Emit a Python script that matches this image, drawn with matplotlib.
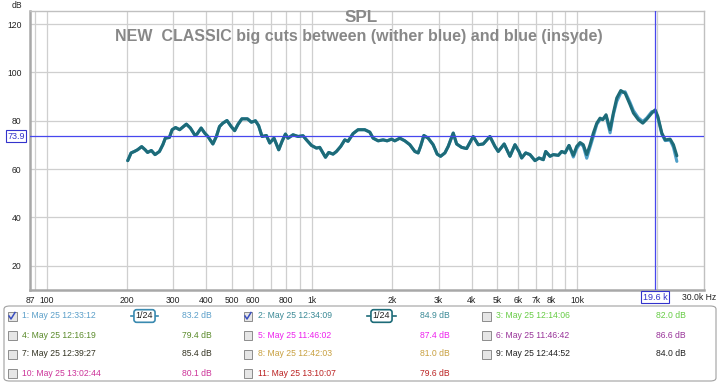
import matplotlib
matplotlib.use("Agg")
import matplotlib.pyplot as plt
from matplotlib.patches import Rectangle, FancyBboxPatch
from matplotlib.lines import Line2D

plt.rcParams['font.family'] = ['Liberation Sans', 'DejaVu Sans']

# ---------------- data ----------------
freq_hz = [202, 208, 214, 220, 228, 235, 240, 248, 256, 266, 274, 280, 290, 297, 306, 317,
           336, 348, 361, 368, 382, 394, 405, 423, 436, 448, 461, 478, 496, 511, 526, 544,
           571, 591, 612, 629, 648, 673, 693, 719, 749, 771, 794, 812, 848, 886, 925, 953,
           995, 1039, 1069, 1091, 1124, 1156, 1200, 1236, 1283, 1329, 1367, 1428, 1491, 1580,
           1651, 1699, 1775, 1853, 1919, 1993, 2051, 2143, 2238, 2337, 2441, 2512, 2565, 2640,
           2740, 2861, 2963, 3052, 3168, 3261, 3406, 3508, 3664, 3826, 3937, 4051, 4231, 4419,
           4683, 4891, 5034, 5300, 5572, 5820, 6026, 6169, 6388, 6630, 6925, 7170, 7443, 7600,
           7889, 8118, 8479, 8732, 8986, 9305, 9658, 9947, 10240, 10530, 10850, 11170, 11490,
           11840, 12180, 12470, 12830, 13290, 13670, 14080, 14580, 15140, 15810, 16270, 16990,
           17650, 18280, 19090, 19650, 20110, 20820, 21430, 22380, 23030, 23720]

spl_2_teal = [63.5, 66.7, 67.3, 68.0, 69.3, 68.0, 66.9, 67.7, 66.0, 67.3, 70.1, 72.8, 73.1, 76.3, 77.2, 76.3,
              78.6, 77.0, 74.2, 74.4, 77.0, 74.9, 73.5, 70.4, 73.5, 77.6, 79.0, 80.1, 77.6, 75.9, 78.5, 80.8,
              80.8, 79.4, 80.0, 78.0, 73.5, 73.9, 70.8, 72.8, 68.0, 71.5, 74.5, 72.8, 74.2, 73.5, 73.8, 72.1,
              69.8, 68.7, 69.0, 67.3, 64.9, 66.9, 66.2, 67.3, 69.4, 72.1, 71.5, 74.7, 76.3, 76.3,
              75.3, 72.8, 71.7, 72.1, 71.7, 72.4, 71.7, 72.8, 71.7, 70.1, 67.3, 66.7, 69.4, 73.9,
              72.8, 70.1, 66.2, 65.3, 66.7, 69.4, 74.9, 70.4, 69.0, 68.5, 71.0, 73.5, 70.1, 70.4,
              73.5, 69.4, 67.3, 70.4, 65.3, 70.1, 67.3, 64.6, 66.7, 66.0, 63.5, 64.6, 63.9, 67.3,
              65.3, 66.0, 65.7, 67.3, 66.7, 69.8, 65.7, 69.4, 71.0, 70.1, 66.0, 70.1, 74.9,
              79.0, 81.1, 80.4, 82.5, 76.3, 83.2, 89.4, 92.5, 91.4, 86.6, 83.2, 80.4,
              79.0, 80.7, 83.2, 84.5, 81.8, 74.9, 72.1, 72.4, 70.1, 65.5]

spl_1_lightblue = [63.5, 66.7, 67.3, 68.0, 69.3, 68.0, 66.9, 67.7, 66.0, 67.3, 70.1, 72.8, 73.1, 76.3, 77.2, 76.3,
                   78.6, 77.0, 74.2, 74.4, 77.0, 74.9, 73.5, 70.4, 73.5, 77.6, 79.0, 80.1, 77.6, 75.9, 78.5, 80.8,
                   80.8, 79.4, 80.0, 78.0, 73.5, 73.9, 70.8, 72.8, 68.0, 71.5, 74.5, 72.8, 74.2, 73.5, 73.8, 72.1,
                   69.8, 68.7, 69.0, 67.3, 64.9, 66.9, 66.2, 67.3, 69.4, 72.1, 71.5, 74.7, 76.3, 76.3,
                   75.3, 72.8, 71.7, 72.1, 71.7, 72.4, 71.7, 72.8, 71.7, 70.1, 67.3, 66.7, 69.4, 73.9,
                   72.8, 70.1, 66.2, 65.3, 66.7, 69.4, 74.9, 70.4, 69.0, 68.5, 71.0, 73.5, 70.1, 70.4,
                   73.5, 69.4, 67.3, 70.4, 65.3, 70.1, 67.3, 64.6, 66.7, 66.0, 63.5, 64.6, 63.9, 67.3,
                   65.3, 66.0, 65.7, 67.3, 66.7, 69.8, 65.0, 68.5, 70.6, 69.5, 64.5, 69.0, 73.5,
                   78.5, 80.5, 80.8, 82.0, 75.0, 82.5, 88.0, 91.5, 92.0, 87.5, 84.2, 81.2,
                   79.7, 81.2, 83.8, 84.0, 81.2, 74.5, 71.8, 72.0, 69.0, 63.2]

x_tick_vals = [87, 100, 200, 300, 400, 500, 600, 800, 1000, 2000, 3000, 4000, 5000, 6000, 7000, 8000, 10000]
x_tick_labels = ['87', '100', '200', '300', '400', '500', '600', '800', '1k', '2k', '3k', '4k', '5k', '6k', '7k', '8k', '10k']
x_end_label = '30.0k Hz'
x_grid_vals = [90, 100, 200, 300, 400, 500, 600, 700, 800, 900, 1000, 2000, 3000, 4000, 5000, 6000,
               7000, 8000, 9000, 10000, 20000]
y_tick_vals = [20, 40, 60, 80, 100, 120]

cursor_y = 73.9
cursor_x = 19600

legend_rows = [
    [("1: May 25 12:33:12", "83.2 dB", "#5b9fc9", True, True),
     ("2: May 25 12:34:09", "84.9 dB", "#3b8a96", True, True),
     ("3: May 25 12:14:06", "82.0 dB", "#66cc44", False, False)],
    [("4: May 25 12:16:19", "79.4 dB", "#5a8a2a", False, False),
     ("5: May 25 11:46:02", "87.4 dB", "#ee22ee", False, False),
     ("6: May 25 11:46:42", "86.6 dB", "#993399", False, False)],
    [("7: May 25 12:39:27", "85.4 dB", "#333322", False, False),
     ("8: May 25 12:42:03", "81.0 dB", "#c8a040", False, False),
     ("9: May 25 12:44:52", "84.0 dB", "#222222", False, False)],
    [("10: May 25 13:02:44", "80.1 dB", "#cc3399", False, False),
     ("11: May 25 13:10:07", "79.6 dB", "#bb2222", False, False)],
]

# ---------------- figure ----------------
W, H = 719, 384
fig = plt.figure(figsize=(W / 100, H / 100), dpi=100)
fig.patch.set_facecolor('white')


def fx(x):
    return x / W


def fy(y):
    return 1 - y / H


L, R, T, B = 30, 704.3, 11, 290
ax = fig.add_axes([fx(L), fy(B), fx(R) - fx(L), fy(T) - fy(B)])
ax.set_xscale('log')
ax.set_xlim(86.5, 30100)
ax.set_ylim(10, 125.4)
ax.set_facecolor('white')

for gx in x_grid_vals:
    ax.axvline(gx, color='#cfcfcf', lw=0.9, zorder=0)
for gy in y_tick_vals:
    ax.axhline(gy, color='#cfcfcf', lw=0.9, zorder=0)

ax.plot(freq_hz, spl_1_lightblue, color='#4f9fc8', lw=2.2, zorder=3, solid_capstyle='round')
ax.plot(freq_hz, spl_2_teal, color='#1d6b78', lw=2.2, zorder=4, solid_capstyle='round')

ax.axhline(cursor_y, color='#4747ee', lw=0.9, zorder=5)
ax.axvline(cursor_x, color='#4747ee', lw=0.9, zorder=5)

ax.set_xticks(x_tick_vals)
ax.set_xticklabels(x_tick_labels)
ax.xaxis.set_minor_locator(matplotlib.ticker.NullLocator())
ax.set_yticks(y_tick_vals)
ax.set_yticklabels([str(v) for v in y_tick_vals])
ax.tick_params(axis='both', length=0, labelsize=6.2, colors='#222222')
ax.tick_params(axis='x', pad=4)
ax.tick_params(axis='y', pad=6)

for s in ['top', 'right']:
    ax.spines[s].set_color('#c0c0c0')
    ax.spines[s].set_linewidth(1.0)
for s in ['left', 'bottom']:
    ax.spines[s].set_color('#a8a8a8')
    ax.spines[s].set_linewidth(1.8)

fig.text(fx(716), fy(297), x_end_label, ha='right', va='center', fontsize=6.2, color='#222222')

# titles
fig.text(fx(361), fy(18), "SPL", ha='center', va='center', fontsize=12.3,
         fontweight='bold', color='#888888')
fig.text(fx(359), fy(37), "NEW  CLASSIC big cuts between (wither blue) and blue (insyde)",
         ha='center', va='center', fontsize=11.5, fontweight='bold', color='#888888')
fig.text(fx(17), fy(5), "dB", ha='center', va='center', fontsize=6.2, color='#222222')

# cursor value boxes
fig.text(fx(16), fy(136), "73.9", ha='center', va='center', fontsize=6.5, color='#3333cc',
         bbox=dict(boxstyle='square,pad=0.15', fc='white', ec='#3333cc', lw=0.8))
fig.text(fx(655), fy(297), "19.6 k", ha='center', va='center', fontsize=6.5, color='#3333cc',
         bbox=dict(boxstyle='square,pad=0.15', fc='white', ec='#3333cc', lw=0.8))

# ---------------- legend panel ----------------
panel = FancyBboxPatch((fx(4), fy(381)), fx(712), 75 / H, transform=fig.transFigure,
                       boxstyle='round,pad=0,rounding_size=0.008', fc='white', ec='#a0a0a0', lw=0.8)
fig.patches.append(panel)

row_y = [316, 335, 354, 373]
col_box_x = [12, 248, 486]
col_val_x = [212, 450, 686]
icon_x = [(131, 158), (367, 396)]


def checkbox(x, y, checked):
    r = Rectangle((fx(x - 4.5), fy(y + 4.5)), 9 / W, 9 / H, transform=fig.transFigure,
                  fc='#e6e6e6', ec='#8c8c8c', lw=0.7)
    fig.patches.append(r)
    if checked:
        fig.lines.append(Line2D([fx(x - 3), fx(x - 1), fx(x + 3)], [fy(y), fy(y + 3), fy(y - 3.5)],
                                transform=fig.transFigure, color='#3a4fc0', lw=1.1))


for ri, row in enumerate(row_y):
    for ci, entry in enumerate(legend_rows[ri]):
        label, val, col, checked, icon = entry
        checkbox(col_box_x[ci], row, checked)
        fig.text(fx(col_box_x[ci] + 10), fy(row), label, ha='left', va='center', fontsize=6.2, color=col)
        fig.text(fx(col_val_x[ci]), fy(row), val, ha='right', va='center', fontsize=6.2, color=col)
        if icon:
            x0, x1 = icon_x[ci]
            lc = '#3a8ab0' if ci == 0 else '#1d6b78'
            fig.lines.append(Line2D([fx(x0), fx(x1)], [fy(row), fy(row)], transform=fig.transFigure,
                                    color=lc, lw=1.2))
            fig.text(fx((x0 + x1) / 2), fy(row), "1/24", ha='center', va='center', fontsize=6.5,
                     color='#222222',
                     bbox=dict(boxstyle='round,pad=0.2,rounding_size=0.3', fc='white', ec=lc, lw=1.2))

fig.savefig('out.png', dpi=100)
